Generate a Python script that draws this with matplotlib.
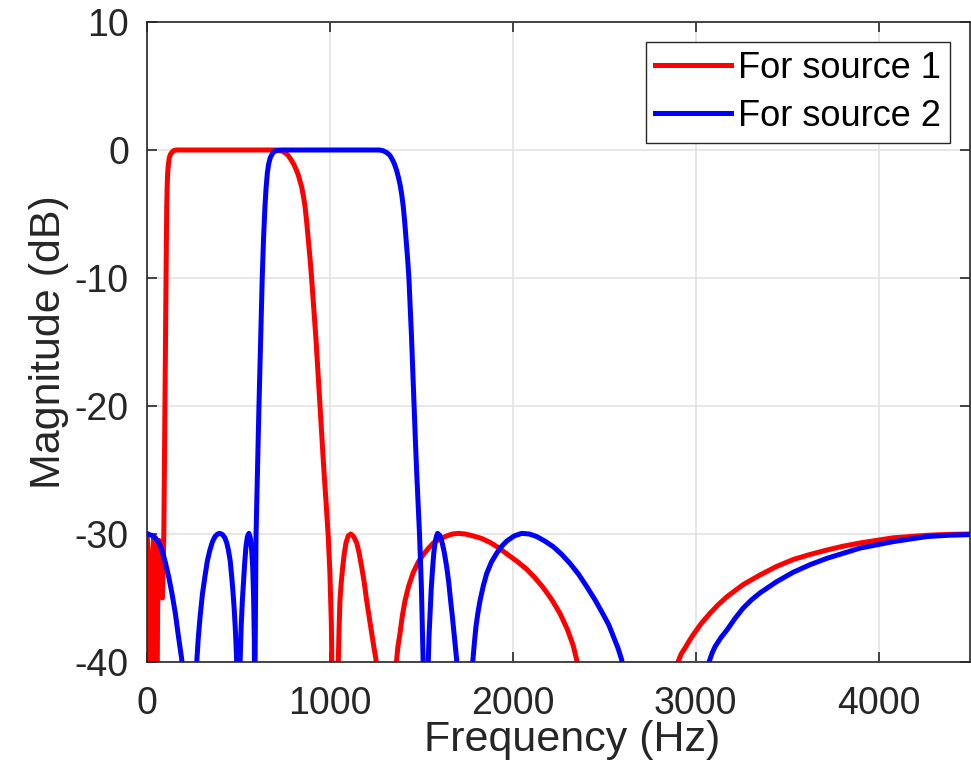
import numpy as np
import matplotlib
matplotlib.use("Agg")
import matplotlib.pyplot as plt

plt.rcParams["font.family"] = ["Liberation Sans", "DejaVu Sans"]
plt.rcParams["axes.unicode_minus"] = False

# values (Hz, dB); nulls pushed below the axis floor
red_freq = [0, 5, 10, 16, 22, 30, 38, 44, 52, 58, 66, 72, 78, 84, 88, 92, 95, 98, 101, 104,
            106, 108, 110, 113, 117, 122, 128, 135, 145, 160, 300, 500, 700, 720, 740, 755,
            770, 785, 800, 815, 827, 838, 846, 855, 864, 873, 882, 891, 900, 912, 924, 935,
            946, 957, 968, 980, 991, 1000, 1008, 1015, 1028,
            1046, 1050, 1055, 1062, 1070, 1078, 1088, 1100, 1114, 1130, 1140, 1147, 1160,
            1174, 1188, 1201, 1215, 1229, 1240, 1252, 1300,
            1365, 1372, 1383, 1396, 1411, 1430, 1456, 1483, 1511, 1540, 1566, 1600, 1639,
            1670, 1702, 1740, 1784, 1830, 1875, 1920, 1967, 2020, 2076, 2120, 2167, 2212,
            2258, 2300, 2330, 2349, 2620,
            2903, 2920, 2942, 2965, 2985, 3030, 3078, 3125, 3171, 3260, 3352, 3440, 3532,
            3625, 3718, 3808, 3899, 3990, 4079, 4170, 4265, 4380, 4500]
red_db = [-30.0, -31.0, -35.0, -50.0, -40.0, -32.0, -30.2, -32.0, -50.0, -36.0, -30.5, -31.0,
          -33.0, -35.0, -33.0, -30.0, -25.0, -20.1, -15.0, -10.0,
          -7.0, -4.4, -3.0, -1.8, -1.1, -0.6, -0.35, -0.2, -0.05, 0, 0, 0, 0, -0.03, -0.1, -0.22,
          -0.4, -0.7, -1.05, -1.5, -1.95, -2.5, -2.9, -3.6, -4.4, -5.6, -7.0, -8.4, -10.0, -12.4, -14.8, -17.4,
          -20.1, -22.6, -25.2, -27.7, -30.2, -33.0, -37.0, -45.0, -60.0,
          -40.0, -37.5, -35.2, -33.8, -32.6, -31.6, -30.7, -30.15, -30.0, -30.2, -30.5, -30.7, -31.5,
          -32.6, -33.8, -35.2, -36.5, -37.8, -38.8, -39.8, -60.0,
          -39.8, -38.8, -37.8, -36.4, -35.2, -34.1, -33.0, -32.2, -31.6, -31.1, -30.7, -30.4, -30.15,
          -30.0, -29.95, -30.0, -30.15, -30.35, -30.65, -31.05, -31.55, -32.1, -32.75, -33.4, -34.2, -35.1,
          -36.2, -37.5, -38.7, -39.8, -60.0,
          -40.0, -39.4, -38.9, -38.35, -37.9, -37.0, -36.2, -35.5, -34.9, -33.95, -33.2, -32.55, -32.0,
          -31.6, -31.25, -30.95, -30.7, -30.5, -30.3, -30.2, -30.1, -30.03, -30.0]

blue_freq = [0, 25, 46, 65, 82, 100, 118, 136, 155, 170, 182, 190, 230,
             272, 280, 290, 303, 317, 330, 344, 358, 372, 386, 399, 413, 426, 436, 445, 455,
             463, 470, 477, 484, 490, 500,
             509, 515, 521, 527, 534, 541, 549, 557, 565, 572, 578, 583, 587, 589,
             591, 596, 604, 612, 621, 630, 637, 645, 651, 658, 665, 674, 689, 705, 727,
             900, 1100, 1270, 1290, 1311, 1327, 1340, 1353, 1365, 1376, 1385, 1393, 1401, 1409,
             1417, 1425, 1432, 1439, 1446, 1453, 1460, 1467, 1474, 1482, 1490, 1500, 1510, 1518,
             1538, 1542, 1547, 1554, 1562, 1568, 1575, 1582, 1589, 1600, 1611, 1625, 1639,
             1650, 1660, 1670, 1679, 1693, 1715,
             1781, 1790, 1799, 1810, 1821, 1838, 1857, 1883, 1912, 1940, 1967, 2008, 2049,
             2090, 2131, 2175, 2222, 2268, 2313, 2360, 2404, 2450, 2495, 2525, 2550, 2575,
             2595, 2830,
             3073, 3090, 3106, 3138, 3171, 3215, 3259, 3305, 3352, 3440, 3532, 3625, 3718,
             3808, 3899, 3990, 4079, 4170, 4265, 4380, 4500]
blue_db = [-30.0, -30.1, -30.3, -30.7, -31.25, -32.2, -33.3, -34.6, -36.2, -37.8, -39.0, -39.8, -60.0,
           -40.0, -38.2, -36.5, -34.7, -33.3, -32.1, -31.25, -30.6, -30.2, -30.0, -29.95, -30.05,
           -30.3, -30.7, -31.25, -32.1, -33.3, -34.5, -35.9, -37.7, -39.8, -60.0,
           -40.0, -37.2, -35.3, -33.9, -32.3, -31.0, -30.2, -29.95, -30.3, -31.2, -32.6, -35.0, -38.5, -55.0,
           -40.0, -30.2, -25.0, -20.1, -15.0, -10.0, -7.0, -4.4, -3.0, -1.8, -1.1, -0.6, -0.2, -0.05, 0,
           0, 0, 0, -0.05, -0.2, -0.4, -0.7, -1.1, -1.6, -2.2, -2.8, -3.5, -4.4, -5.6,
           -7.0, -8.5, -10.0, -12.2, -14.5, -17.2, -20.0, -22.5, -25.0, -27.5, -30.0, -34.0, -40.0, -60.0,
           -40.0, -38.0, -36.5, -34.3, -32.6, -31.5, -30.7, -30.2, -29.95, -30.1, -30.5, -31.4, -32.6,
           -33.8, -35.2, -36.5, -37.8, -39.8, -60.0,
           -40.0, -38.5, -37.2, -36.1, -35.2, -34.1, -33.1, -32.2, -31.5, -30.95, -30.55, -30.15, -29.95,
           -30.0, -30.2, -30.55, -31.0, -31.6, -32.3, -33.15, -34.1, -35.15, -36.3, -37.1, -38.0, -38.9,
           -39.8, -60.0,
           -40.0, -39.3, -38.8, -38.1, -37.5, -36.6, -35.8, -35.15, -34.6, -33.75, -33.0, -32.4, -31.9,
           -31.5, -31.1, -30.85, -30.6, -30.4, -30.2, -30.1, -30.05]

labels = ["For source 1", "For source 2"]

fig = plt.figure(figsize=(9.71, 7.64), dpi=100)
ax = fig.add_axes([147 / 971, 102 / 764, 823 / 971, 640 / 764])

ax.plot(red_freq, red_db, color="#ff0000", lw=3.6, label=labels[0])
ax.plot(blue_freq, blue_db, color="#0000ff", lw=3.6, label=labels[1])

ax.set_xlim(0, 4500)
ax.set_ylim(-40, 10)
ax.set_xticks([0, 1000, 2000, 3000, 4000])
ax.set_yticks([-40, -30, -20, -10, 0, 10])
ax.grid(True, color="#e3e3e3", lw=1.2)
ax.set_axisbelow(True)

for s in ax.spines.values():
    s.set_color("#262626")
    s.set_linewidth(1.2)
ax.tick_params(direction="in", length=7, width=1.2, colors="#262626",
               labelsize=27, top=True, right=True)
ax.tick_params(axis="x", pad=17)
ax.tick_params(axis="y", pad=13)

ax.set_xlabel("Frequency (Hz)", fontsize=31, color="#262626")
ax.xaxis.set_label_coords(0.516, -0.09, transform=ax.transAxes)
ax.xaxis.label.set_va("top")
ax.set_ylabel("Magnitude (dB)", fontsize=31, color="#262626", labelpad=4)

leg = ax.legend(loc="upper right", fontsize=26, frameon=True, fancybox=False,
                edgecolor="#262626", framealpha=1, handlelength=2.1,
                handletextpad=0.2, borderpad=0.25, labelspacing=0.35,
                borderaxespad=0.55)
leg.get_frame().set_linewidth(1.0)

fig.savefig("out.png", dpi=100)
